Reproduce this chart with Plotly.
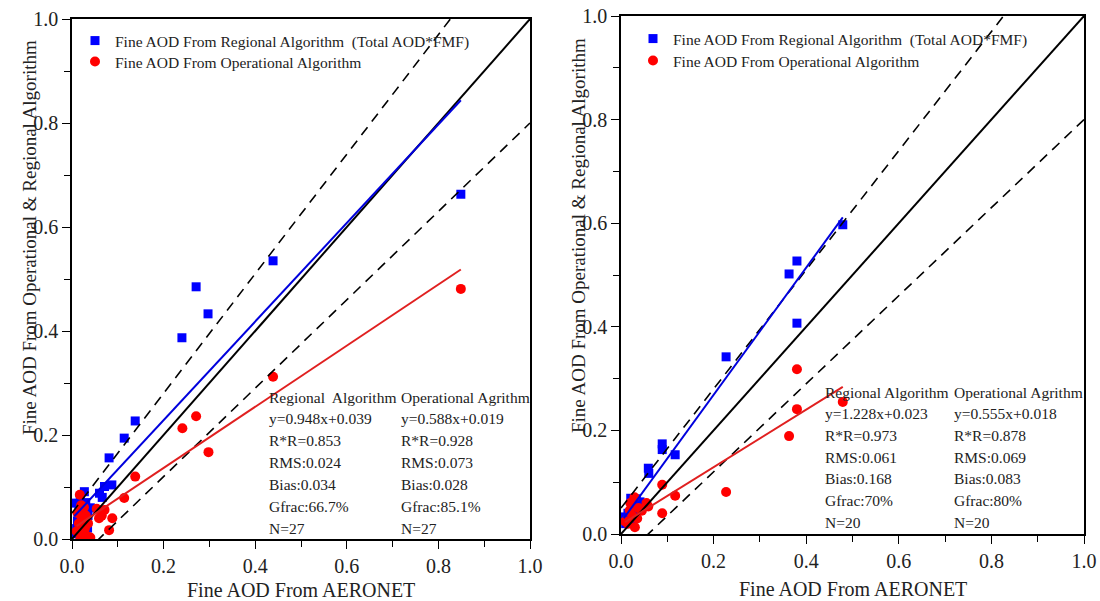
import plotly.graph_objects as go

W, H = 1100, 601

# ---- left panel data ----
a_reg_x = [0.849, 0.439, 0.271, 0.297, 0.240, 0.138, 0.114, 0.081, 0.071, 0.087,
           0.060, 0.066, 0.027, 0.008, 0.034, 0.010, 0.020, 0.025, 0.015, 0.030,
           0.005, 0.020, 0.035, 0.040, 0.012, 0.028, 0.018]
a_reg_y = [0.663, 0.535, 0.485, 0.433, 0.387, 0.227, 0.194, 0.156, 0.101, 0.104,
           0.088, 0.080, 0.091, 0.069, 0.021, 0.020, 0.040, 0.055, 0.060, 0.070,
           0.010, 0.010, 0.045, 0.060, 0.035, 0.030, 0.075]
a_op_x = [0.849, 0.439, 0.271, 0.241, 0.298, 0.138, 0.114, 0.088, 0.081, 0.059,
          0.054, 0.071, 0.065, 0.017, 0.026, 0.021, 0.028, 0.032, 0.015, 0.012,
          0.030, 0.020, 0.025, 0.035, 0.010, 0.040, 0.018]
a_op_y = [0.481, 0.312, 0.236, 0.213, 0.167, 0.120, 0.079, 0.040, 0.017, 0.040,
          0.058, 0.056, 0.045, 0.085, 0.061, 0.042, 0.020, 0.006, 0.030, 0.050,
          0.045, 0.065, 0.010, 0.030, 0.015, 0.003, 0.000]
a_reg_fit = [0.948, 0.039]
a_op_fit = [0.588, 0.019]
a_reg_stats = ["Regional\u00a0 Algorithm", "y=0.948x+0.039", "R*R=0.853", "RMS:0.024",
               "Bias:0.034", "Gfrac:66.7%", "N=27"]
a_op_stats = ["Operational Agrithm", "y=0.588x+0.019", "R*R=0.928", "RMS:0.073",
              "Bias:0.028", "Gfrac:85.1%", "N=27"]

# ---- right panel data ----
b_reg_x = [0.479, 0.380, 0.363, 0.380, 0.227, 0.089, 0.089, 0.117, 0.059, 0.060,
           0.021, 0.033, 0.041, 0.006, 0.025, 0.030, 0.015, 0.035, 0.020, 0.010]
b_reg_y = [0.597, 0.527, 0.502, 0.407, 0.342, 0.174, 0.163, 0.153, 0.127, 0.117,
           0.069, 0.068, 0.062, 0.033, 0.026, 0.045, 0.040, 0.055, 0.030, 0.020]
b_op_x = [0.380, 0.380, 0.363, 0.479, 0.227, 0.089, 0.117, 0.089, 0.059, 0.055,
          0.029, 0.019, 0.038, 0.009, 0.030, 0.024, 0.015, 0.035, 0.020, 0.045]
b_op_y = [0.318, 0.241, 0.189, 0.255, 0.081, 0.095, 0.074, 0.040, 0.053, 0.060,
          0.071, 0.046, 0.050, 0.024, 0.013, 0.035, 0.020, 0.030, 0.060, 0.045]
b_reg_fit = [1.228, 0.023]
b_op_fit = [0.555, 0.018]
b_reg_stats = ["Regional Algorithm", "y=1.228x+0.023", "R*R=0.973", "RMS:0.061",
               "Bias:0.168", "Gfrac:70%", "N=20"]
b_op_stats = ["Operational Agrithm", "y=0.555x+0.018", "R*R=0.878", "RMS:0.069",
              "Bias:0.083", "Gfrac:80%", "N=20"]

# expected error envelope (slope, offset)
envelope = [(1.15, 0.05), (0.85, -0.05)]
ticks = [0.0, 0.2, 0.4, 0.6, 0.8, 1.0]
reg_name = "Fine AOD From Regional Algorithm\u00a0 (Total AOD*FMF)"
op_name = "Fine AOD From Operational Algorithm"
x_title = "Fine AOD From AERONET"
y_title = "Fine AOD From Operational &amp; Regional Algorithm"

FONT = "Liberation Serif, Times New Roman, serif"
TXT = "#222222"


def px(x):
    return x / W


def py(y):
    return 1 - y / H


# panel boxes in window pixels: left, right, top, bottom
panels = [
    dict(box=(72, 530, 19, 539), reg=(a_reg_x, a_reg_y, a_reg_fit), op=(a_op_x, a_op_y, a_op_fit),
         stats=(a_reg_stats, a_op_stats), cols=(267, 399), rows=(397, 528),
         ytx=29, yty=238, xty=590, leg=(75, 41, 62)),
    dict(box=(621, 1084, 16, 534), reg=(b_reg_x, b_reg_y, b_reg_fit), op=(b_op_x, b_op_y, b_op_fit),
         stats=(b_reg_stats, b_op_stats), cols=(823, 952), rows=(392, 522),
         ytx=578, yty=236, xty=589, leg=(633, 39, 61)),
]

fig = go.Figure()
annotations = []
layout = {}

for i, p in enumerate(panels):
    sfx = "" if i == 0 else str(i + 1)
    xa, ya = "x" + sfx, "y" + sfx
    l, r, t, b = p["box"]
    axis_common = dict(
        range=[0, 1], tickvals=ticks, ticktext=[f"{v:.1f}" for v in ticks],
        showline=True, linecolor="black", linewidth=1.5, mirror=True,
        ticks="outside", ticklen=8, tickwidth=1.3, tickcolor="black",
        minor=dict(ticks="outside", ticklen=6, tickwidth=1.3, tickcolor="black", dtick=0.1, showgrid=False),
        showgrid=False, zeroline=False, fixedrange=True, automargin=False,
        ticklabeloverflow="allow",
        tickfont=dict(family=FONT, size=20, color=TXT),
    )
    layout["xaxis" + sfx] = dict(domain=[px(l), px(r)], anchor=ya, **axis_common)
    layout["yaxis" + sfx] = dict(domain=[py(b), py(t)], anchor=xa, **axis_common)

    rx, ry, rfit = p["reg"]
    ox, oy, ofit = p["op"]
    lg1 = "legend" if i == 0 else "legend3"
    lg2 = "legend2" if i == 0 else "legend4"

    fig.add_trace(go.Scatter(x=rx, y=ry, mode="markers", name=reg_name, xaxis=xa, yaxis=ya,
                             marker=dict(symbol="square", size=9, color="#0000ff"), legend=lg1))
    fig.add_trace(go.Scatter(x=ox, y=oy, mode="markers", name=op_name, xaxis=xa, yaxis=ya,
                             marker=dict(symbol="circle", size=10, color="#ff0000"), legend=lg2))

    # envelope lines and 1:1 line
    for m, c in envelope:
        fig.add_trace(go.Scatter(x=[0, 1], y=[c, m + c], mode="lines", xaxis=xa, yaxis=ya,
                                 line=dict(color="black", width=1.6, dash="10px,7px"), showlegend=False))
    fig.add_trace(go.Scatter(x=[0, 1], y=[0, 1], mode="lines", xaxis=xa, yaxis=ya,
                             line=dict(color="black", width=2), showlegend=False))

    # fit lines
    for xs, (m, c), col in [(rx, rfit, "#0000dd"), (ox, ofit, "#e02020")]:
        xe = [min(xs), max(xs)]
        fig.add_trace(go.Scatter(x=xe, y=[m * v + c for v in xe], mode="lines", xaxis=xa, yaxis=ya,
                                 line=dict(color=col, width=2), showlegend=False))

    # legends
    lx, ly1, ly2 = p["leg"]
    for name, yy in [(lg1, ly1), (lg2, ly2)]:
        layout[name] = dict(x=px(lx), y=py(yy), xanchor="left", yanchor="middle",
                            bgcolor="rgba(0,0,0,0)", borderwidth=0,
                            font=dict(family=FONT, size=15.5, color=TXT))

    # stats text
    r0, r1 = p["rows"]
    step = (r1 - r0) / 6
    for col_x, lines in zip(p["cols"], p["stats"]):
        for k, s in enumerate(lines):
            annotations.append(dict(x=px(col_x), y=py(r0 + k * step), xref="paper", yref="paper",
                                    text=s, showarrow=False, xanchor="left", yanchor="middle",
                                    font=dict(family=FONT, size=15.5, color=TXT)))

    # axis titles
    annotations.append(dict(x=px((l + r) / 2), y=py(p["xty"]), xref="paper", yref="paper",
                            text=x_title, showarrow=False, xanchor="center", yanchor="middle",
                            font=dict(family=FONT, size=20, color=TXT)))
    annotations.append(dict(x=px(p["ytx"]), y=py(p["yty"]), xref="paper", yref="paper",
                            text=y_title, showarrow=False, textangle=-90,
                            xanchor="center", yanchor="middle",
                            font=dict(family=FONT, size=19, color=TXT)))

fig.update_layout(
    width=W, height=H,
    margin=dict(l=0, r=0, t=0, b=0),
    paper_bgcolor="white", plot_bgcolor="white",
    annotations=annotations,
    **layout,
)

# drop the default page margin so the figure fills the 1100x601 window
fig.write_html("out.html", config={"displayModeBar": False},
               post_script="document.body.style.margin='0';document.body.style.overflow='hidden';")
